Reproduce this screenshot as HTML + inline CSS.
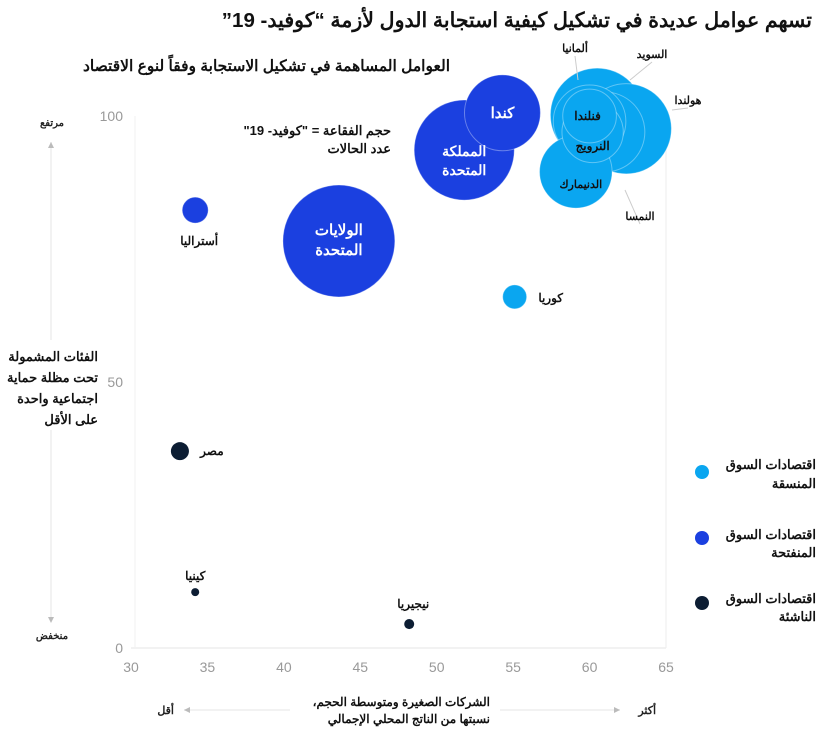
<!DOCTYPE html>
<html><head><meta charset="utf-8">
<style>
body{margin:0;background:#fff;}
svg text{font-family:"Liberation Sans","Noto Sans CJK SC",sans-serif;}
</style></head>
<body>
<svg id="chart" width="826" height="747" xmlns="http://www.w3.org/2000/svg">
<text x="812" y="27" direction="rtl" text-anchor="start" font-size="20.5" font-weight="bold" fill="#111">تسهم عوامل عديدة في تشكيل كيفية استجابة الدول لأزمة “كوفيد- 19”</text>
<text x="450" y="71" text-anchor="end" font-size="15.5" font-weight="bold" fill="#111">العوامل المساهمة في تشكيل الاستجابة وفقاً لنوع الاقتصاد</text>
<text x="391" y="135" direction="rtl" text-anchor="start" font-size="13" font-weight="bold" fill="#111">حجم الفقاعة = "كوفيد- 19"</text>
<text x="391" y="153" text-anchor="end" font-size="13" font-weight="bold" fill="#111">عدد الحالات</text>
<g id="axes"></g>
<g id="marks"></g>
<g id="labels"></g>
<text x="52" y="126" text-anchor="middle" font-size="10" font-weight="bold" fill="#222">مرتفع</text>
<line x1="51" y1="142" x2="51" y2="620" stroke="#eee" stroke-width="1.5"/>
<polygon points="48,148 51,142 54,148" fill="#bbb"/>
<polygon points="48,617 51,623 54,617" fill="#bbb"/>
<rect x="10" y="340" width="92" height="90" fill="#fff"/>
<text font-size="13" font-weight="bold" fill="#111" text-anchor="end">
<tspan x="98" y="361">الفئات المشمولة</tspan><tspan x="98" y="382">تحت مظلة حماية</tspan><tspan x="98" y="403">اجتماعية واحدة</tspan><tspan x="98" y="424">على الأقل</tspan></text>
<text x="52" y="639" text-anchor="middle" font-size="10" font-weight="bold" fill="#222">منخفض</text>
<line x1="184" y1="710" x2="620" y2="710" stroke="#eee" stroke-width="1.5"/>
<polygon points="184,710 190,707 190,713" fill="#bbb"/>
<polygon points="620,710 614,707 614,713" fill="#bbb"/>
<rect x="290" y="695" width="210" height="40" fill="#fff"/>
<text x="174" y="714" text-anchor="end" font-size="11" font-weight="bold" fill="#222">أقل</text>
<text x="656" y="714" text-anchor="end" font-size="11" font-weight="bold" fill="#222">أكثر</text>
<text font-size="12" font-weight="bold" fill="#111" direction="rtl" text-anchor="start"><tspan x="490" y="706">الشركات الصغيرة ومتوسطة الحجم،</tspan><tspan x="490" y="723">نسبتها من الناتج المحلي الإجمالي</tspan></text>
<g font-size="13" font-weight="bold" fill="#111">
<circle cx="702" cy="472" r="7" fill="#0aa6f0"/>
<text text-anchor="end"><tspan x="816" y="469">اقتصادات السوق</tspan><tspan x="816" y="488">المنسقة</tspan></text>
<circle cx="702" cy="538" r="7" fill="#1b40e0"/>
<text text-anchor="end"><tspan x="816" y="539">اقتصادات السوق</tspan><tspan x="816" y="557">المنفتحة</tspan></text>
<circle cx="702" cy="603" r="7" fill="#0c1d33"/>
<text text-anchor="end"><tspan x="816" y="603">اقتصادات السوق</tspan><tspan x="816" y="621">الناشئة</tspan></text>
</g>
</svg>
<script>
const countries = ["الولايات المتحدة","المملكة المتحدة","كندا","أستراليا","كوريا","مصر","كينيا","نيجيريا","السويد","هولندا","النمسا","ألمانيا","الدنيمارك","النرويج","فنلندا"];
const xValues = [43.6,51.8,54.3,34.2,55.1,33.2,34.2,48.2,60.5,62.4,61.0,60.0,59.1,60.2,60.0];
const yValues = [76.5,93.6,100.6,82.3,66.0,37.0,10.5,4.5,100.2,97.6,97.0,99.0,89.5,97.0,100.0];
const cases = [1000,800,460,54,46,26,5,8,700,650,510,420,420,300,230];
const groups = ["lib","lib","lib","lib","coord","emg","emg","emg","coord","coord","coord","coord","coord","coord","coord"];
const xTicks = [30,35,40,45,50,55,60,65];
const yTicks = [0,50,100];

const NS="http://www.w3.org/2000/svg";
const X0=131,X1=666,Y0=648,Y1=116;
const xs=v=>X0+(v-30)/35*(X1-X0);
const ys=v=>Y0-(v/100)*(Y0-Y1);
const rs=c=>1.77*Math.sqrt(c);
const colors={lib:"#1b40e0",coord:"#0aa6f0",emg:"#0c1d33"};
function mk(tag,attrs,parent){const e=document.createElementNS(NS,tag);for(const k in attrs)e.setAttribute(k,attrs[k]);parent.appendChild(e);return e;}
const axes=document.getElementById('axes'),marks=document.getElementById('marks'),labels=document.getElementById('labels');
let bl=mk('line',{x1:X0,y1:Y0,x2:X1,y2:Y0,stroke:'#e6e6e6'},axes);


let rl=mk('line',{x1:X1,y1:Y1,x2:X1,y2:Y0,stroke:'#eee'},axes);


let ll=mk('line',{x1:X0+4,y1:Y1,x2:X0+4,y2:Y0,stroke:'#f2f2f2'},axes);


xTicks.forEach(t=>{const e=mk('text',{x:xs(t),y:Y0+24,'text-anchor':'middle','font-size':14,fill:'#999'},axes);e.textContent=t;

});
yTicks.forEach(t=>{const e=mk('text',{x:X0-8,y:ys(t)+5,'text-anchor':'end','font-size':14,fill:'#999'},axes);e.textContent=t;

});
const order=cases.map((c,i)=>i).sort((a,b)=>cases[b]-cases[a]);
order.forEach(i=>{const c=mk('circle',{cx:xs(xValues[i]),cy:ys(yValues[i]),r:Math.max(4,rs(cases[i])),fill:colors[groups[i]],stroke:groups[i]==='emg'?'none':'rgba(255,255,255,0.35)','stroke-width':1},marks);

});
const lab=[[0,0,-6,'#fff',["الولايات","المتحدة"],15],[1,0,6,'#fff',["المملكة","المتحدة"],14],[2,0,5,'#fff',["كندا"],15],
[3,4,35,'#111',["أستراليا"],12],[4,36,5,'#111',["كوريا"],12],[5,32,4,'#111',["مصر"],12],[6,0,-12,'#111',["كينيا"],12],[7,4,-16,'#111',["نيجيريا"],12],
[14,-2,4,'#111',["فنلندا"],12],[13,0,18,'#111',["النرويج"],12],[12,5,16,'#111',["الدنيمارك"],11]];
lab.forEach(([i,dx,dy,col,lines,fs])=>{const t=mk('text',{x:xs(xValues[i])+dx,y:ys(yValues[i])+dy,'text-anchor':'middle','font-size':fs,'font-weight':'bold',fill:col},labels);
lines.forEach((s,k)=>{const ts=mk('tspan',{x:xs(xValues[i])+dx,dy:k?fs+5:0},t);ts.textContent=s;});

});
const callouts=[["ألمانيا",575,52,578,80],["السويد",652,58,630,80],["هولندا",688,104,672,110],["النمسا",640,220,625,190]];
callouts.forEach(([s,x,y,x2,y2])=>{const l=mk('line',{x1:x,y1:y+4,x2:x2,y2:y2,stroke:'#ccc'},labels);


const t=mk('text',{x:x,y:y,'text-anchor':'middle','font-size':11,'font-weight':'bold',fill:'#111'},labels);t.textContent=s;

});
</script>
</body></html>
